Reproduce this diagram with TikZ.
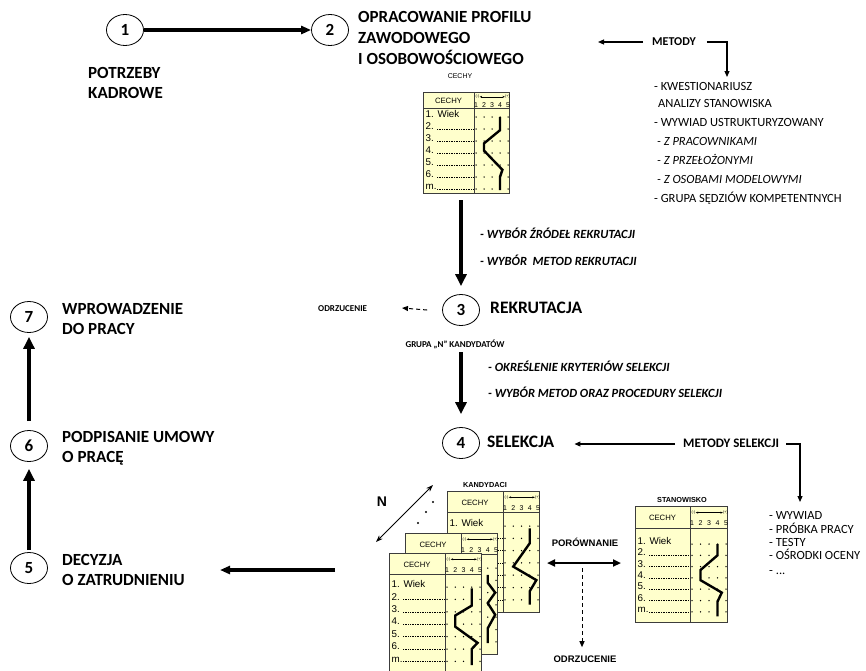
\documentclass[tikz,border=0pt]{standalone}
\usepackage{fontspec}
\setmainfont{Carlito}
\newfontfamily\arialf{Liberation Sans}
\usetikzlibrary{arrows.meta,shapes.geometric}
\definecolor{cardfill}{RGB}{255,255,204}
\definecolor{cardedge}{RGB}{60,60,60}

% Profile card: #1 width, #2 height, #3 header height, #4 divider x,
% #5 first row y, #6 row step, #7 name prefix, #8 number of labelled rows
\newcommand{\cardbody}[8]{%
  \def\kW{#1}\def\kH{#2}\def\kh{#3}\def\kd{#4}\def\kr{#5}\def\ks{#6}%
  \pgfmathsetmacro\kc{(#1-#4-3)/4}%
  \filldraw[cardbox] (0,0) rectangle (#1,#2);
  \draw[cardrule] (0,#3) -- (#1,#3) (#4,0) -- (#4,#2);
  \node[cardhead] (#7-head) at ({#4/2},{#3/2}) {CECHY};
  \node[cardtiny, anchor=west] (#7-minus) at ({#4+1.5},{0.3*#3}) {(-)};
  \node[cardtiny, anchor=east] (#7-plus) at ({#1+1},{0.3*#3}) {(+)};
  \draw[cardscale] (#7-minus.east) -- (#7-plus.west);
  \foreach \n in {1,...,5}
    \node[carddigit] (#7-d\n) at ({\kd+2+(\n-1)*\kc},{0.74*#3}) {\n};
  \foreach \lab [count=\k from 0] in {1. Wiek,2.,3.,4.,5.,6.,m.}{
    \ifnum\k<#8\relax
      \node[cardrow] (#7-r\k) at (2.5,{\kr+\k*\ks}) {\lab};
    \fi
    \foreach \n in {1,...,5}
      \fill ({\kd+2+(\n-1)*\kc},{\kr+\k*\ks+3}) circle (0.75);
  }
  \foreach \k in {1,...,6}
    \draw[leader] (14,{\kr+\k*\ks+3}) -- ({\kd-1},{\kr+\k*\ks+3});
}
% column / row position inside the current card
\newcommand{\pX}[1]{\kd+2+(#1-1)*\kc}
\newcommand{\pY}[1]{\kr+(#1)*\ks+3}

\begin{document}
\begin{tikzpicture}[x=1pt,y=-1pt,
  stagebox/.style={draw, ellipse, line width=0.8pt, minimum width=37pt, minimum height=31pt,
    inner sep=0pt, font=\bfseries\fontsize{17}{17}\selectfont},
  lbl/.style={inner sep=0pt, anchor=west, text height=0.64em, text depth=0pt},
  headtxt/.style={lbl, font=\bfseries\fontsize{17}{17}\selectfont},
  headbig/.style={lbl, font=\bfseries\fontsize{17.5}{17.5}\selectfont},
  notetxt/.style={lbl, font=\bfseries\itshape\fontsize{12.5}{12.5}\selectfont},
  itemtxt/.style={lbl, font=\fontsize{12.5}{12.5}\selectfont},
  itemit/.style={lbl, font=\itshape\fontsize{12.5}{12.5}\selectfont},
  tagtxt/.style={lbl, font=\bfseries\fontsize{9}{9}\selectfont},
  methtxt/.style={lbl, font=\bfseries\fontsize{12}{12}\selectfont},
  arialtag/.style={inner sep=0pt, text height=0.72em, text depth=0pt,
    font=\arialf\bfseries\fontsize{9.5}{9.5}\selectfont},
  cardtitle/.style={inner sep=0pt, text height=0.72em, text depth=0pt,
    font=\arialf\bfseries\fontsize{7.3}{7.3}\selectfont},
  cardbox/.style={fill=cardfill, draw=cardedge, line width=0.8pt},
  cardrule/.style={draw=cardedge, line width=0.8pt},
  cardhead/.style={inner sep=0pt, text height=0.72em, text depth=0pt,
    font=\arialf\fontsize{7.7}{7.7}\selectfont},
  cardtiny/.style={inner sep=0pt, font=\arialf\fontsize{3.8}{3.8}\selectfont},
  carddigit/.style={inner sep=0pt, text height=0.72em, text depth=0pt,
    font=\arialf\fontsize{7}{7}\selectfont},
  cardrow/.style={inner sep=0pt, anchor=west, text height=0.72em, text depth=0pt,
    font=\arialf\fontsize{9.8}{9.8}\selectfont},
  cardscale/.style={line width=0.5pt, {Stealth[length=2.5pt,width=2pt]}-{Stealth[length=2.5pt,width=2pt]}},
  leader/.style={line width=0.5pt, dash pattern=on 0.6pt off 1.1pt},
  profile/.style={line width=2.4pt},
  flowh/.style={line width=3.2pt, -{Triangle[length=10pt,width=8pt]}},
  flowv/.style={line width=4pt, -{Triangle[length=12pt,width=11pt]}},
  thinarr/.style={line width=1.2pt, -{Triangle[length=6pt,width=5pt]}},
  dasharr/.style={line width=1pt, dash pattern=on 4pt off 3pt, -{Triangle[length=6pt,width=5pt]}},
  twoway/.style={line width=2pt, {Triangle[length=8pt,width=7pt]}-{Triangle[length=8pt,width=7pt]}},
  nway/.style={line width=1pt, {Stealth[length=7pt,width=5pt]}-{Stealth[length=7pt,width=5pt]}}
]
\useasboundingbox (0,0) rectangle (866,670);
\clip (0,0) rectangle (866,670);

% ---------- stages ----------
\node[stagebox] (c1) at (125,30) {1};
\node[stagebox] (c2) at (330,30) {2};
\node[stagebox] (c3) at (461,310) {3};
\node[stagebox] (c4) at (461,443) {4};
\node[stagebox] (c5) at (29,568) {5};
\node[stagebox] (c6) at (29,446) {6};
\node[stagebox] (c7) at (29,317) {7};

\node[headtxt] (l1a) at (88,75) {POTRZEBY};
\node[headtxt] (l1b) at (88,95) {KADROWE};
\node[headtxt] (l2a) at (358,19) {OPRACOWANIE PROFILU};
\node[headtxt] (l2b) at (358,40) {ZAWODOWEGO};
\node[headtxt] (l2c) at (358,61) {I OSOBOWOŚCIOWEGO};
\node[headbig] (l3) at (490,310) {REKRUTACJA};
\node[headbig] (l4) at (487,444) {SELEKCJA};
\node[headtxt] (l5a) at (62,562) {DECYZJA};
\node[headtxt] (l5b) at (62,582) {O ZATRUDNIENIU};
\node[headtxt] (l6a) at (62,439) {PODPISANIE UMOWY};
\node[headtxt] (l6b) at (62,459) {O PRACĘ};
\node[headtxt] (l7a) at (62,311) {WPROWADZENIE};
\node[headtxt] (l7b) at (62,331) {DO PRACY};

% ---------- methods of profiling ----------
\node[methtxt] (met) at (652,42) {METODY};
\node[itemtxt] (m1) at (654,87) {- KWESTIONARIUSZ};
\node[itemtxt] (m2) at (658,104) {ANALIZY STANOWISKA};
\node[itemtxt] (m3) at (654,123) {- WYWIAD USTRUKTURYZOWANY};
\node[itemit] (m4) at (657,142) {- Z PRACOWNIKAMI};
\node[itemit] (m5) at (657,161) {- Z PRZEŁOŻONYMI};
\node[itemit] (m6) at (657,180) {- Z OSOBAMI MODELOWYMI};
\node[itemtxt] (m7) at (654,199) {- GRUPA SĘDZIÓW KOMPETENTNYCH};
\coordinate (metL) at (598,42);
\coordinate (metD) at (727,77);
\draw[thinarr] ([xshift=-9pt]met.west) -- (metL);
\draw[thinarr] ([xshift=11pt]met.east) -| (metD);

% ---------- recruitment ----------
\node[notetxt] (n1) at (480,235) {- WYBÓR ŹRÓDEŁ REKRUTACJI};
\node[notetxt] (n2) at (480,262) {- WYBÓR\ \ METOD REKRUTACJI};
\node[tagtxt] (odr1) at (318,308) {ODRZUCENIE};
\coordinate (odrTip) at (402,308);
\draw[dasharr] ([xshift=-15pt]c3.west) -- (odrTip);
\node[tagtxt, anchor=center] (grp) at (455,344) {GRUPA „N” KANDYDATÓW};
\node[notetxt] (n3) at (488,368) {- OKREŚLENIE KRYTERIÓW SELEKCJI};
\node[notetxt] (n4) at (488,394) {- WYBÓR METOD ORAZ PROCEDURY SELEKCJI};

% ---------- selection methods ----------
\node[methtxt, font=\bfseries\fontsize{13}{13}\selectfont] (ms) at (683,444) {METODY SELEKCJI};
\node[itemtxt] (s1) at (769,516) {- WYWIAD};
\node[itemtxt] (s2) at (769,530) {- PRÓBKA PRACY};
\node[itemtxt] (s3) at (769,543) {- TESTY};
\node[itemtxt] (s4) at (769,556) {- OŚRODKI OCENY};
\node[itemtxt] (s5) at (769,571) {- ...};
\coordinate (msD) at (800,502);
\draw[thinarr] ([xshift=-8pt]ms.west) -- ([xshift=20pt]l4.east);
\draw[thinarr] ([xshift=7pt]ms.east) -| (msD);

% ---------- main flow ----------
\coordinate (k1bot) at (461,200);
\coordinate (grpBot) at (461,352);
\draw[flowh] (c1) -- (c2);
\draw[flowv, shorten >=8pt] (k1bot) -- (c3.north);
\draw[flowv, shorten >=13pt] (grpBot) -- (c4.north);
\draw[flowv, shorten <=2pt, shorten >=7pt] (c5) -- (c6);
\draw[flowv, shorten <=9pt, shorten >=4pt] (c6) -- (c7);
\coordinate (cmpL) at (335,570);
\coordinate (decTip) at (220,570);
\draw[flowh] (cmpL) -- (decTip);

% ---------- profile card of the job ----------
\node[cardhead, font=\arialf\fontsize{7}{7}\selectfont] (kAt) at (460,75) {CECHY};
\begin{scope}[shift={(423,92)}]
  \cardbody{86}{101}{16}{51}{22}{12}{kA}{7}
  \draw[profile] ({\pX{4}},{\pY{0}}) -- ({\pX{4}},{\pY{1.1}}) -- ({\pX{2}},{\pY{2.2}})
    -- ({\pX{2}},{\pY{2.8}}) -- ({\pX{4.3}},{\pY{4.4}}) -- ({\pX{4}},{\pY{5}}) -- ({\pX{4}},{\pY{6.1}});
\end{scope}

% ---------- candidate cards (back to front) ----------
\node[cardtitle] (kand) at (485,484) {KANDYDACI};
\begin{scope}[shift={(447,491)}]
  \cardbody{92}{121}{21}{56}{32}{12.3}{kB}{1}
  \draw[profile] ({\pX{4}},{\pY{0.2}}) -- ({\pX{4}},{\pY{1.4}}) -- ({\pX{2}},{\pY{3.3}})
    -- ({\pX{4.8}},{\pY{4.4}}) -- ({\pX{4}},{\pY{5.3}}) -- ({\pX{4}},{\pY{6.4}});
\end{scope}
\begin{scope}[shift={(405,533)}]
  \cardbody{92}{121}{21}{56}{32}{12.3}{kC}{0}
  \draw[profile] ({\pX{4}},{\pY{0.55}}) -- ({\pX{4}},{\pY{1.2}}) -- ({\pX{4.9}},{\pY{2.0}})
    -- ({\pX{4}},{\pY{2.85}}) -- ({\pX{4.9}},{\pY{3.8}}) -- ({\pX{4}},{\pY{4.9}}) -- ({\pX{4}},{\pY{6.1}});
\end{scope}
\begin{scope}[shift={(389,553)}]
  \cardbody{92}{121}{21}{56}{31}{12.4}{kD}{7}
  \draw[profile] ({\pX{4}},{\pY{0.1}}) -- ({\pX{4}},{\pY{1.5}}) -- ({\pX{2}},{\pY{2.3}})
    -- ({\pX{2}},{\pY{3.2}}) -- ({\pX{4.7}},{\pY{4.5}}) -- ({\pX{4}},{\pY{5.0}}) -- ({\pX{4}},{\pY{6.3}});
\end{scope}

% N candidates
\node[inner sep=0pt, text height=0.72em, text depth=0pt, font=\arialf\bfseries\fontsize{14}{14}\selectfont] (nN) at (382,503) {N};
\coordinate (nA) at (376,542);
\coordinate (nB) at (433,485);
\draw[nway] (nA) -- (nB);
\fill (418,523) circle (1.1) (426,512) circle (1.1) (433,502) circle (1.1);

% ---------- job card ----------
\node[cardtitle] (stan) at (682,499) {STANOWISKO};
\begin{scope}[shift={(635,506)}]
  \cardbody{92}{116}{22}{55}{35}{11.3}{kE}{7}
  \draw[profile] ({\pX{4}},{\pY{0}}) -- ({\pX{4}},{\pY{1}}) -- ({\pX{2}},{\pY{2.3}})
    -- ({\pX{2}},{\pY{3.2}}) -- ({\pX{4.5}},{\pY{4.3}}) -- ({\pX{4}},{\pY{5.1}}) -- ({\pX{4}},{\pY{6.4}});
\end{scope}

% ---------- comparison ----------
\node[arialtag] (por) at (585,543) {PORÓWNANIE};
\coordinate (cmpA) at (547,563);
\coordinate (cmpB) at (621,563);
\draw[twoway] (cmpA) -- (cmpB);
\node[arialtag] (odr2) at (585,659) {ODRZUCENIE};
\coordinate (rejTop) at (582,568);
\draw[dasharr, shorten >=8pt] (rejTop) -- (rejTop |- odr2.north);
\end{tikzpicture}
\end{document}
